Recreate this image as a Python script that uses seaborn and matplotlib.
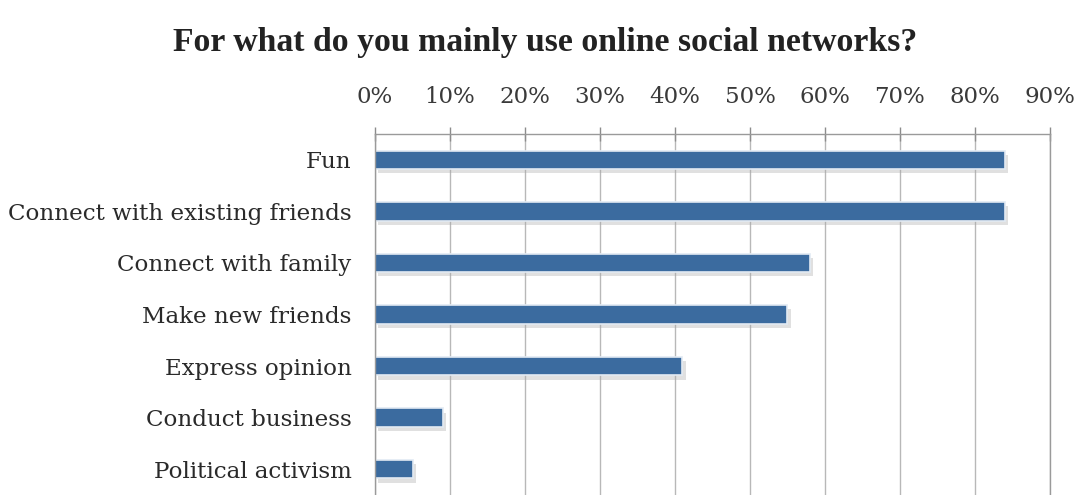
import matplotlib
matplotlib.use("Agg")
import matplotlib.pyplot as plt
import matplotlib.patheffects as pe
import seaborn as sns
import pandas as pd

categories = [
    "Fun",
    "Connect with existing friends",
    "Connect with family",
    "Make new friends",
    "Express opinion",
    "Conduct business",
    "Political activism",
]
shares = [84, 84, 58, 55, 41, 9, 5]
tick_values = [0, 10, 20, 30, 40, 50, 60, 70, 80, 90]
tick_labels = [f"{v}%" for v in tick_values]
title = "For what do you mainly use online social networks?"

df = pd.DataFrame({"use": categories, "share": shares})

sns.set_theme(style="white")
plt.rcParams["font.family"] = ["DejaVu Serif"]

fig = plt.figure(figsize=(10.77, 4.95), dpi=100)
ax = fig.add_axes([0.3482, 0.0, 0.9749 - 0.3482, 1 - 134 / 495])

sns.barplot(data=df, x="share", y="use", orient="h", color="#3b6b9f",
            saturation=1, width=0.36, ax=ax, edgecolor="#e2eaf3", linewidth=1.2)

# soft drop shadow under each bar
for bar in ax.patches:
    bar.set_path_effects([
        pe.SimplePatchShadow(offset=(2.5, -3), shadow_rgbFace="#a8a8a8", alpha=0.35),
        pe.Normal(),
    ])

ax.set_xlim(0, 90)
ax.set_ylim(len(categories) - 0.5, -0.5)
ax.set_xticks(tick_values)
ax.set_xticklabels(tick_labels)
ax.xaxis.tick_top()
ax.set_xlabel("")
ax.set_ylabel("")

ax.set_yticks([i + 0.5 for i in range(-1, len(categories))], minor=True)
ax.set_yticks(range(len(categories)))
ax.tick_params(axis="y", which="major", length=0, pad=17, labelsize=16.6, labelcolor="#2a2a2a")
ax.tick_params(axis="y", which="minor", length=5, width=1, color="#8c8c8c", direction="out")
ax.tick_params(axis="x", which="major", length=10, width=1, color="#8c8c8c",
               direction="inout", pad=14, labelsize=16.5, labelcolor="#3a3a3a")

ax.grid(axis="x", color="#b8b8b8", linewidth=1.0)
ax.set_axisbelow(True)
for side in ["top", "left", "right"]:
    ax.spines[side].set_visible(True)
    ax.spines[side].set_color("#9a9a9a")
    ax.spines[side].set_linewidth(1.0)
ax.spines["bottom"].set_visible(False)

fig.text(0.506, 1 - 42 / 495, title, ha="center", va="center",
         fontsize=24.3, fontweight="bold", color="#222222", family="Liberation Serif")

fig.savefig("out.png", dpi=100, facecolor="white")
